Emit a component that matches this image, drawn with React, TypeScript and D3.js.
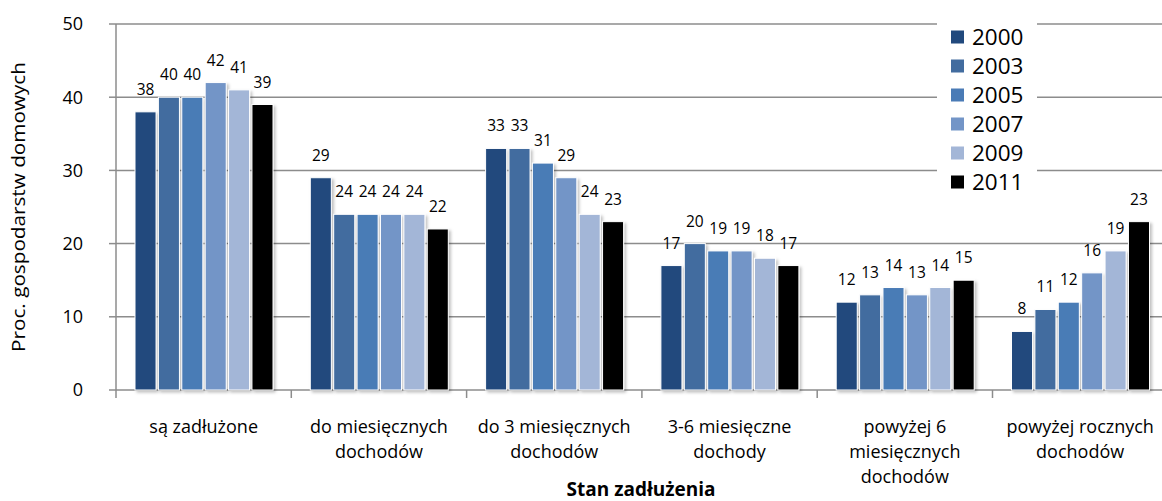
import * as d3 from 'd3';

const categories = [
  ['są zadłużone'],
  ['do miesięcznych', 'dochodów'],
  ['do 3 miesięcznych', 'dochodów'],
  ['3-6 miesięczne', 'dochody'],
  ['powyżej 6', 'miesięcznych', 'dochodów'],
  ['powyżej rocznych', 'dochodów'],
];
const years = ['2000', '2003', '2005', '2007', '2009', '2011'];
const colors = ['#21497d', '#426c9f', '#4a7bb6', '#7395c7', '#a3b6d7', '#000000'];
const v2000 = [38, 29, 33, 17, 12, 8];
const v2003 = [40, 24, 33, 20, 13, 11];
const v2005 = [40, 24, 31, 19, 14, 12];
const v2007 = [42, 24, 29, 19, 13, 16];
const v2009 = [41, 24, 24, 18, 14, 19];
const v2011 = [39, 22, 23, 17, 15, 23];
const series = [v2000, v2003, v2005, v2007, v2009, v2011];
const yTicks = [0, 10, 20, 30, 40, 50];

const W = 1162;
const H = 501;
const font = '"Open Sans", sans-serif';

export default function App() {
  const left = 116;
  const x0 = d3.scaleBand<number>().domain(d3.range(categories.length)).range([left, left + 6 * 175.3]);
  const x1 = d3.scaleBand<number>().domain(d3.range(years.length)).range([19, 157]).paddingInner(0.1);
  const y = d3.scaleLinear().domain([0, 50]).range([390, 24]);
  const right = W;

  return (
    <svg width={W} height={H} style={{ position: 'absolute', left: 0, top: 0, background: '#fff' }} fontFamily={font}>
      <defs>
        <filter id="sh" x="-20%" y="-5%" width="150%" height="115%">
          <feDropShadow dx="2" dy="2" stdDeviation="1.5" floodColor="#000" floodOpacity="0.25" />
        </filter>
      </defs>
      {yTicks.map(t => (
        <g key={t}>
          {t > 0 && <line x1={left} x2={right} y1={y(t)} y2={y(t)} stroke="#8c8c8c" strokeWidth={1.5} />}
          <line x1={left - 7} x2={left} y1={y(t)} y2={y(t)} stroke="#8c8c8c" strokeWidth={1.5} />
          <text x={83} y={y(t)} dy="0.35em" textAnchor="end" fontSize={18} fill="#000">{t}</text>
        </g>
      ))}
      <line x1={left} x2={left} y1={y(50)} y2={y(0)} stroke="#8c8c8c" strokeWidth={1.5} />
      <line x1={left} x2={right} y1={y(0)} y2={y(0)} stroke="#8c8c8c" strokeWidth={1.5} />
      {d3.range(categories.length + 1).map(i => {
        const xx = left + i * x0.bandwidth();
        return <line key={i} x1={xx} x2={xx} y1={y(0)} y2={y(0) + 8} stroke="#8c8c8c" strokeWidth={1.5} />;
      })}
      {categories.map((cat, ci) => (
        <g key={ci} transform={`translate(${x0(ci)},0)`}>
          {series.map((s, si) => (
            <rect
              key={si}
              x={x1(si)}
              y={y(s[ci])}
              width={x1.bandwidth()}
              height={y(0) - y(s[ci])}
              fill={colors[si]}
              stroke="#fff"
              strokeWidth={1}
              filter="url(#sh)"
            />
          ))}
          {series.map((s, si) => (
            <text
              key={'l' + si}
              x={x1(si)! + x1.bandwidth() / 2}
              y={y(s[ci]) - 17}
              textAnchor="middle"
              fontSize={15.5}
              fill="#000"
            >
              {s[ci]}
            </text>
          ))}
          {cat.map((line, li) => (
            <text key={'c' + li} x={x0.bandwidth() / 2} y={433 + li * 25} textAnchor="middle" fontSize={18} fill="#000">
              {line}
            </text>
          ))}
        </g>
      ))}
      <text
        transform={`translate(25,${(y(0) + y(50)) / 2}) rotate(-90)`}
        textAnchor="middle"
        fontSize={18}
        textLength={290}
        lengthAdjust="spacingAndGlyphs"
        fill="#000"
      >
        Proc. gospodarstw domowych
      </text>
      <text x={641} y={496} textAnchor="middle" fontSize={19} fontWeight="bold" fill="#000">
        Stan zadłużenia
      </text>
      <g>
        <rect x={937} y={21} width={100} height={175} fill="#fff" />
        {years.map((yr, i) => (
          <g key={yr} transform={`translate(951,${37 + i * 29})`}>
            <rect x={0} y={-6.5} width={13} height={13} fill={colors[i]} />
            <text x={21} y={0} dy="0.36em" fontSize={22.5} fill="#000">{yr}</text>
          </g>
        ))}
      </g>
    </svg>
  );
}
